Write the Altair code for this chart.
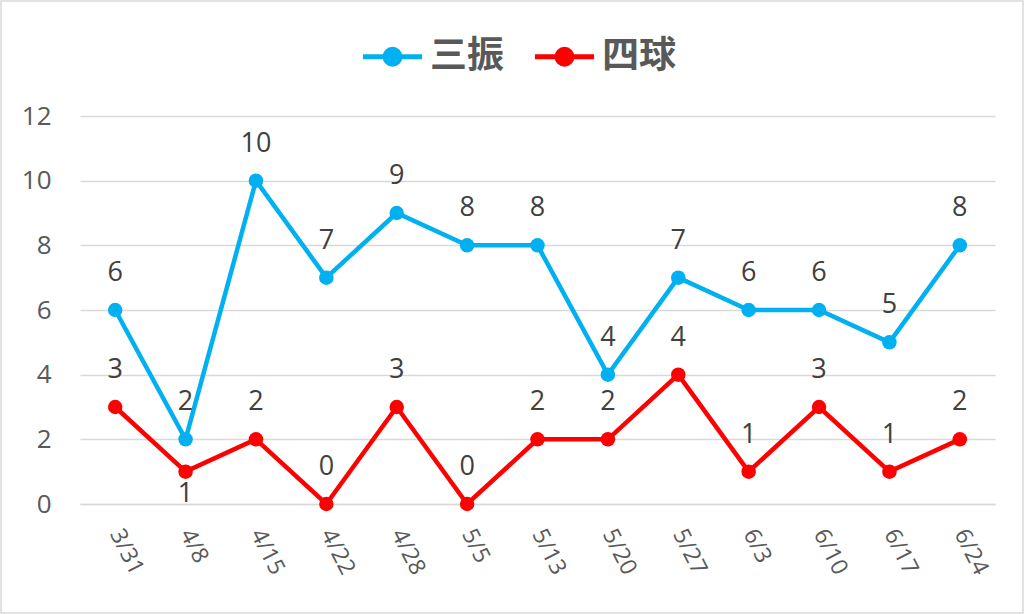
import altair as alt
import pandas as pd

dates = ["3/31", "4/8", "4/15", "4/22", "4/28", "5/5", "5/13", "5/20", "5/27", "6/3", "6/10", "6/17", "6/24"]
sanshin = [6, 2, 10, 7, 9, 8, 8, 4, 7, 6, 6, 5, 8]
shikyu = [3, 1, 2, 0, 3, 0, 2, 2, 4, 1, 3, 1, 2]
series_names = ["三振", "四球"]
series_colors = ["#00B0F0", "#FF0000"]
labels_below = [("四球", "4/8")]

rows = []
for name, vals in zip(series_names, [sanshin, shikyu]):
    for d, v in zip(dates, vals):
        rows.append({"date": d, "series": name, "value": v,
                     "pos": "below" if (name, d) in labels_below else "above"})
df = pd.DataFrame(rows)

FONT = "Open Sans"
CJK = "Noto Sans CJK JP"

x = alt.X("date:N", sort=dates, scale=alt.Scale(type="point", padding=0.5),
          axis=alt.Axis(title=None, labelAngle=63, labelAlign="left", labelBaseline="middle",
                        labelPadding=26, labelFontSize=23, labelFont=FONT, labelColor="#595959",
                        ticks=False, grid=False, domain=True, domainColor="#D9D9D9", domainWidth=1.5))
y = alt.Y("value:Q", scale=alt.Scale(domain=[0, 12], nice=False),
          axis=alt.Axis(title=None, values=list(range(13)),
                        labelExpr="datum.value % 2 == 0 ? datum.label : ''",
                        grid=True,
                        gridColor={"condition": {"test": "datum.value % 2 == 0", "value": "#D9D9D9"},
                                   "value": "#F0F0F0"},
                        gridWidth=1.3, domain=False, ticks=False,
                        labelPadding=29, labelFontSize=26, labelFont=FONT, labelColor="#595959"))

color = alt.Color("series:N", scale=alt.Scale(domain=series_names, range=series_colors),
                  legend=alt.Legend(title=None, orient="none", direction="horizontal",
                                    legendX=280, legendY=-92,
                                    symbolType="M-1,0H1M-0.25,0A0.25,0.25,0,1,1,0.25,0A0.25,0.25,0,1,1,-0.25,0Z",
                                    symbolSize=3500, symbolStrokeWidth=5,
                                    labelFont=CJK, labelFontSize=37, labelFontWeight="bold",
                                    labelColor="#595959", labelOffset=5, columnPadding=20,
                                    symbolOpacity=1))

base = alt.Chart(df)

lines = base.mark_line(strokeWidth=4.5, point=alt.OverlayMarkDef(filled=True, size=210, opacity=1)).encode(
    x=x, y=y, color=color, detail="series:N")

text_above = base.transform_filter("datum.pos == 'above'").mark_text(
    dy=-37, fontSize=27, font=FONT, color="#404040").encode(
    x=alt.X("date:N", sort=dates), y="value:Q", text="value:Q")
text_below = base.transform_filter("datum.pos == 'below'").mark_text(
    dy=22, fontSize=27, font=FONT, color="#404040").encode(
    x=alt.X("date:N", sort=dates), y="value:Q", text="value:Q")

frame = alt.Chart(alt.Data(values=[{}])).mark_rect(fill=None, stroke="#D9D9D9", strokeWidth=1.5).encode(
    x=alt.value(-79), x2=alt.value(1024 - 80 - 1), y=alt.value(-115), y2=alt.value(614 - 116 - 1))

chart = alt.layer(frame, lines, text_above, text_below).properties(
    width=915, height=388,
    autosize=alt.AutoSizeParams(type="none"),
    padding={"left": 80, "top": 116, "right": 29, "bottom": 110},
).configure(background="white").configure_view(stroke=None)

chart.save("out.html", embed_options={"renderer": "svg", "actions": False})
